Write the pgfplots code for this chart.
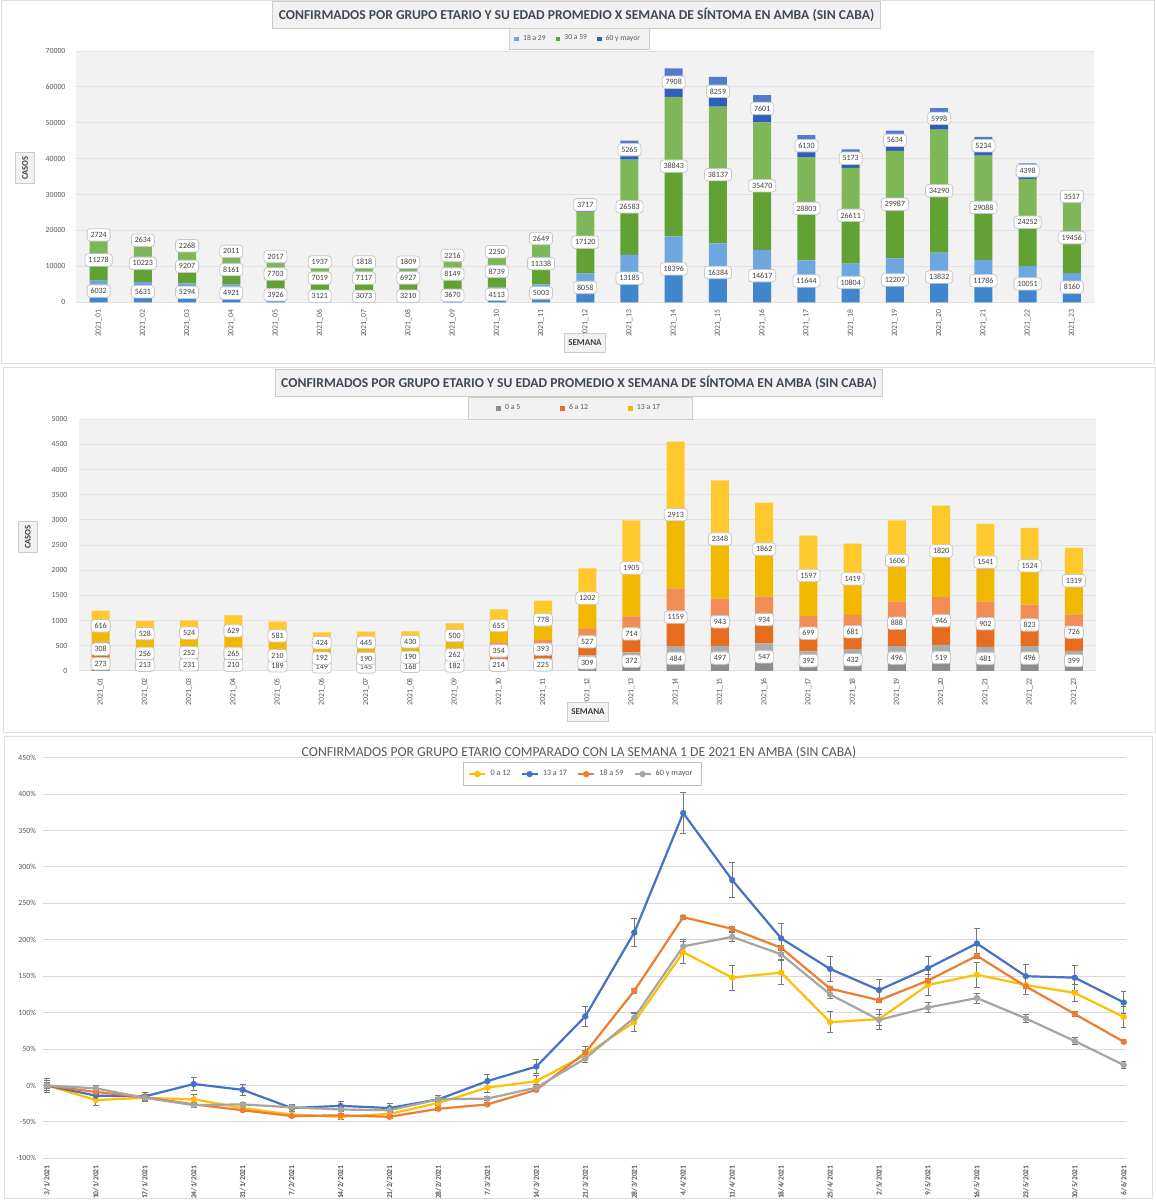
\documentclass[border=0pt]{standalone}
\usepackage{pgfplots}
\pgfplotsset{compat=1.18}
\usepackage{pgfplotstable}
\usepackage{fontspec}
\setmainfont{Carlito}

\definecolor{tx}{RGB}{89,89,89}
\definecolor{ttl}{RGB}{64,72,88}
\definecolor{lbt}{RGB}{64,64,64}
\definecolor{bgp}{RGB}{242,242,242}
\definecolor{grd}{RGB}{226,226,226}
\definecolor{grd3}{RGB}{217,217,217}
\definecolor{lbd}{RGB}{200,200,200}
\definecolor{bAlo}{RGB}{63,134,204}
\definecolor{bAhi}{RGB}{110,166,224}
\definecolor{gBlo}{RGB}{98,162,52}
\definecolor{gBhi}{RGB}{127,183,88}
\definecolor{dClo}{RGB}{47,94,191}
\definecolor{dChi}{RGB}{84,122,208}
\definecolor{gylo}{RGB}{140,140,140}
\definecolor{gyhi}{RGB}{172,172,172}
\definecolor{orlo}{RGB}{232,108,30}
\definecolor{orhi}{RGB}{241,141,85}
\definecolor{yelo}{RGB}{240,185,0}
\definecolor{yehi}{RGB}{255,200,45}
\definecolor{lnY}{RGB}{255,192,0}
\definecolor{lnB}{RGB}{68,114,196}
\definecolor{lnO}{RGB}{237,125,49}
\definecolor{lnG}{RGB}{165,165,165}
\definecolor{ebar}{RGB}{120,120,120}

\newcommand\fs[1]{\fontsize{#1pt}{#1pt}\selectfont}

% semana, 18 a 29, 30 a 59, 60 y mayor
\pgfplotstableread{
w a b c
1 6032 11278 2724
2 5631 10223 2634
3 5294 9207 2268
4 4921 8161 2011
5 3926 7703 2017
6 3121 7019 1937
7 3073 7117 1818
8 3210 6927 1809
9 3670 8149 2216
10 4113 8739 2250
11 5003 11338 2649
12 8058 17120 3717
13 13185 26583 5265
14 18396 38843 7908
15 16384 38137 8259
16 14617 35470 7601
17 11644 28803 6130
18 10804 26611 5173
19 12207 29987 5634
20 13832 34290 5998
21 11786 29088 5234
22 10051 24252 4398
23 8160 19456 3517
}\tabA

% semana, 0 a 5, 6 a 12, 13 a 17
\pgfplotstableread{
w a b c
1 273 308 616
2 213 256 528
3 231 252 524
4 210 265 629
5 189 210 581
6 149 192 424
7 145 190 445
8 168 190 430
9 182 262 500
10 214 354 655
11 225 393 778
12 309 527 1202
13 372 714 1905
14 484 1159 2913
15 497 943 2348
16 547 934 1862
17 392 699 1597
18 432 681 1419
19 496 888 1606
20 519 946 1820
21 481 902 1541
22 496 823 1524
23 399 726 1319
}\tabB

% variacion % vs semana 1: 0a12, 13a17, 18a59, 60+ (con error)
\pgfplotstableread{
x y1 e1 y2 e2 y3 e3 y4 e4
1 0 7 0 9 0 2 0 4
2 -20 7 -14 7 -9 2 -4 4
3 -17 5 -15 6 -16 2 -17 4
4 -19 6 2 9 -26 2 -27 3
5 -31 5 -6 8 -34 2 -26 3
6 -40 4 -31 5 -42 2 -30 3
7 -43 4 -28 6 -41 2 -33 3
8 -39 4 -31 6 -43 2 -34 3
9 -24 4 -19 5 -32 2 -19 3
10 -3 7 6 9 -26 2 -18 3
11 6 8 26 10 -6 2 -3 4
12 42 11 95 14 45 3 37 5
13 87 13 210 19 130 3 93 6
14 183 15 374 28 231 3 191 10
15 148 17 282 24 215 3 204 6
16 155 17 202 20 189 3 180 7
17 87 14 160 17 133 3 125 6
18 91 14 131 15 117 3 90 7
19 138 15 161 16 144 3 107 7
20 152 17 195 20 178 3 120 7
21 138 13 150 16 136 3 92 6
22 127 12 148 17 98 3 61 5
23 94 14 114 15 60 3 28 5
}\tabC

\pgfplotsset{
  barpanel/.style={
    scale only axis, width=508.75pt, anchor=south west,
    xmin=0.5, xmax=23.5,
    ybar stacked, bar width=9pt,
    axis background/.style={fill=bgp},
    axis line style={draw=none}, major tick length=0pt,
    ymajorgrids, grid style={grd, line width=0.5pt},
    tick label style={font=\fs{3.9}, text=tx},
    yticklabel style={xshift=-2pt},
    /pgf/number format/1000 sep={},
    /pgf/number format/assume math mode=true,
    scaled y ticks=false,
    xtick={1,...,23},
    xticklabels={2021\_01,2021\_02,2021\_03,2021\_04,2021\_05,2021\_06,2021\_07,2021\_08,2021\_09,2021\_10,2021\_11,2021\_12,2021\_13,2021\_14,2021\_15,2021\_16,2021\_17,2021\_18,2021\_19,2021\_20,2021\_21,2021\_22,2021\_23},
    xticklabel style={rotate=90, anchor=east},
  },
  labaxis/.style={
    scale only axis, width=508.75pt, anchor=south west,
    xmin=0.5, xmax=23.5, hide axis, clip=false,
    legend cell align=left,
  },
  lab/.style={
    draw=none, mark=none,
    nodes near coords={\pgfplotspointmeta},
    point meta=explicit symbolic,
    every node near coord/.append style={fill=white, draw=lbd, line width=0.4pt,
      rounded corners=1.5pt, inner xsep=1.7pt, inner ysep=0.5pt,
      minimum height=6.2pt, font=\fs{4}, text=lbt, yshift=-3.1pt},
  },
  ln/.style={line width=1.1pt, mark=*, mark size=1pt, mark options={solid}},
  eb/.style={error bars/.cd, y dir=both, y explicit,
    error bar style={ebar, line width=0.45pt},
    error mark options={rotate=90, ebar, mark size=1.5pt, line width=0.45pt}},
}

\begin{document}
\begin{tikzpicture}
\useasboundingbox (0pt,0pt) rectangle (578pt,600pt);
\fill[white] (0pt,0pt) rectangle (578pt,600pt);
\draw[gray!25, line width=0.5pt] (0.5pt,418pt) rectangle (577pt,599.5pt);
\draw[gray!25, line width=0.5pt] (1.5pt,233.5pt) rectangle (577.5pt,416pt);
\draw[gray!25, line width=0.5pt] (2pt,0.5pt) rectangle (576pt,231.5pt);

% ---------- panel 1 ----------
\begin{axis}[barpanel, at={(38.25pt,448.85pt)}, height=125.65pt,
  ymin=0, ymax=70000, ytick={0,10000,...,70000}]
\addplot[fill=bAlo, draw=none] table[x=w, y expr=\thisrow{a}/2] {\tabA};
\addplot[fill=bAhi, draw=none] table[x=w, y expr=\thisrow{a}/2] {\tabA};
\addplot[fill=gBlo, draw=none] table[x=w, y expr=\thisrow{b}/2] {\tabA};
\addplot[fill=gBhi, draw=none] table[x=w, y expr=\thisrow{b}/2] {\tabA};
\addplot[fill=dClo, draw=none] table[x=w, y expr=\thisrow{c}/2] {\tabA};
\addplot[fill=dChi, draw=none] table[x=w, y expr=\thisrow{c}/2] {\tabA};
\end{axis}
\begin{axis}[labaxis, at={(38.25pt,448.85pt)}, height=125.65pt,
  ymin=0, ymax=70000,
  legend image code/.code={\fill[#1] (0pt,-1.2pt) rectangle (2.4pt,1.2pt);},
  legend columns=3,
  legend style={at={(0.494,1.048)}, anchor=center, draw=gray!40, fill=bgp,
    font=\fs{3.8}, text=tx, inner xsep=2.5pt, inner ysep=1.2pt,
    /tikz/every even column/.append style={column sep=3pt}}]
\addlegendimage{fill=bAhi, draw=none}\addlegendentry{18 a 29}
\addlegendimage{fill=gBlo, draw=none}\addlegendentry{30 a 59}
\addlegendimage{fill=dClo, draw=none}\addlegendentry{60 y mayor}
\addplot[lab] table[x=w, y expr=\thisrow{a}/2, meta=a] {\tabA};
\addplot[lab] table[x=w, y expr=\thisrow{a}+\thisrow{b}/2, meta=b] {\tabA};
\addplot[lab] table[x=w, y expr=\thisrow{a}+\thisrow{b}+\thisrow{c}/2, meta=c] {\tabA};
\end{axis}
\node[fill=bgp, draw=gray!40, line width=0.4pt, inner xsep=3pt, minimum height=9.5pt,
  font=\bfseries\fs{6.8}, text=ttl] at (288.25pt,592.5pt)
  {CONFIRMADOS POR GRUPO ETARIO Y SU EDAD PROMEDIO X SEMANA DE SÍNTOMA EN AMBA (SIN CABA)};
\node[fill=bgp, draw=gray!40, line width=0.4pt, rotate=90, inner xsep=2pt, minimum height=6.5pt,
  font=\bfseries\fs{4.3}, text=lbt] at (12.6pt,516pt) {CASOS};
\node[fill=bgp, draw=gray!40, line width=0.4pt, inner xsep=2pt, minimum height=7pt,
  font=\bfseries\fs{4.5}, text=lbt] at (292.5pt,428.5pt) {SEMANA};

% ---------- panel 2 ----------
\begin{axis}[barpanel, at={(39.25pt,264.5pt)}, height=125.85pt,
  ymin=0, ymax=5000, ytick={0,500,...,5000}]
\addplot[fill=gylo, draw=none] table[x=w, y expr=\thisrow{a}/2] {\tabB};
\addplot[fill=gyhi, draw=none] table[x=w, y expr=\thisrow{a}/2] {\tabB};
\addplot[fill=orlo, draw=none] table[x=w, y expr=\thisrow{b}/2] {\tabB};
\addplot[fill=orhi, draw=none] table[x=w, y expr=\thisrow{b}/2] {\tabB};
\addplot[fill=yelo, draw=none] table[x=w, y expr=\thisrow{c}/2] {\tabB};
\addplot[fill=yehi, draw=none] table[x=w, y expr=\thisrow{c}/2] {\tabB};
\end{axis}
\begin{axis}[labaxis, at={(39.25pt,264.5pt)}, height=125.85pt,
  ymin=0, ymax=5000,
  legend image code/.code={\fill[#1] (0pt,-1.2pt) rectangle (2.4pt,1.2pt);},
  legend columns=3,
  legend style={at={(0.493,1.0437)}, anchor=center, draw=gray!40, fill=bgp,
    font=\fs{3.9}, text=tx, inner xsep=14pt, inner ysep=1.5pt,
    /tikz/every even column/.append style={column sep=18pt}}]
\addlegendimage{fill=gylo, draw=none}\addlegendentry{0 a 5}
\addlegendimage{fill=orlo, draw=none}\addlegendentry{6 a 12}
\addlegendimage{fill=yelo, draw=none}\addlegendentry{13 a 17}
\addplot[lab] table[x=w, y expr=\thisrow{a}/2, meta=a] {\tabB};
\addplot[lab] table[x=w, y expr=\thisrow{a}+\thisrow{b}/2, meta=b] {\tabB};
\addplot[lab] table[x=w, y expr=\thisrow{a}+\thisrow{b}+\thisrow{c}/2, meta=c] {\tabB};
\end{axis}
\node[fill=bgp, draw=gray!40, line width=0.4pt, inner xsep=3pt, minimum height=9.5pt,
  font=\bfseries\fs{6.8}, text=ttl] at (289.5pt,408.5pt)
  {CONFIRMADOS POR GRUPO ETARIO Y SU EDAD PROMEDIO X SEMANA DE SÍNTOMA EN AMBA (SIN CABA)};
\node[fill=bgp, draw=gray!40, line width=0.4pt, rotate=90, inner xsep=2pt, minimum height=6.5pt,
  font=\bfseries\fs{4.3}, text=lbt] at (13.9pt,331.5pt) {CASOS};
\node[fill=bgp, draw=gray!40, line width=0.4pt, inner xsep=2pt, minimum height=7pt,
  font=\bfseries\fs{4.5}, text=lbt] at (294pt,244pt) {SEMANA};

% ---------- panel 3 ----------
\begin{axis}[at={(21.5pt,20.85pt)}, anchor=south west, scale only axis,
  width=541.6pt, height=200.3pt,
  xmin=0.92, xmax=23.05, ymin=-100, ymax=450,
  ytick={-100,-50,...,450},
  yticklabel={\pgfmathprintnumber{\tick}\%},
  /pgf/number format/assume math mode=true,
  axis line style={draw=none}, major tick length=0pt,
  ymajorgrids, grid style={grd3, line width=0.5pt},
  tick label style={font=\fs{3.9}, text=tx},
  xtick={1,...,23},
  xticklabels={3/1/2021,10/1/2021,17/1/2021,24/1/2021,31/1/2021,7/2/2021,14/2/2021,21/2/2021,28/2/2021,7/3/2021,14/3/2021,21/3/2021,28/3/2021,4/4/2021,11/4/2021,18/4/2021,25/4/2021,2/5/2021,9/5/2021,16/5/2021,23/5/2021,30/5/2021,6/6/2021},
  xticklabel style={rotate=90, anchor=east, font=\bfseries\fs{3.8}},
  legend image code/.code={\draw[mark repeat=2,mark phase=2,#1] plot coordinates {(0pt,0pt) (4pt,0pt) (8pt,0pt)};},
  legend columns=4,
  legend style={at={(0.498,0.959)}, anchor=center, draw=gray!50, fill=white,
    font=\fs{4.1}, text=tx, inner xsep=2.5pt, inner ysep=1.5pt,
    /tikz/every even column/.append style={column sep=3pt}},
  ]
\addplot[ln, lnY, eb] table[x=x, y=y1, y error=e1] {\tabC};
\addlegendentry{0 a 12}
\addplot[ln, lnB, eb] table[x=x, y=y2, y error=e2] {\tabC};
\addlegendentry{13 a 17}
\addplot[ln, lnO, eb] table[x=x, y=y3, y error=e3] {\tabC};
\addlegendentry{18 a 59}
\addplot[ln, lnG, eb] table[x=x, y=y4, y error=e4] {\tabC};
\addlegendentry{60 y mayor}
\end{axis}
\node[font=\fs{6.85}, text=tx] at (289.5pt,224pt)
  {CONFIRMADOS POR GRUPO ETARIO COMPARADO CON LA SEMANA 1 DE 2021 EN AMBA (SIN CABA)};
\end{tikzpicture}
\end{document}
